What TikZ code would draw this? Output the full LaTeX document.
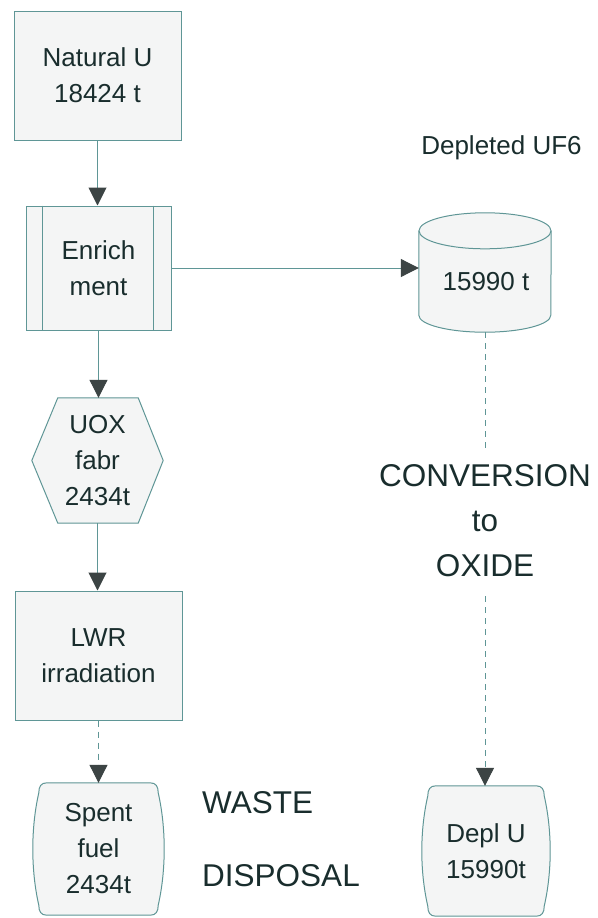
\documentclass[tikz,border=0pt]{standalone}
\usepackage{fontspec}
\setmainfont{Liberation Sans}
\usetikzlibrary{arrows.meta,backgrounds}
\definecolor{ln}{RGB}{95,150,150}
\definecolor{tx}{RGB}{25,45,45}
\definecolor{hd}{RGB}{60,68,68}
\definecolor{fl}{RGB}{244,245,245}
\newcommand\barrelpath[1]{%
 ([xshift=14pt]#1.north west) -- ([xshift=-14pt]#1.north east)
 .. controls ([xshift=-8pt]#1.north east) and ([shift={(-6,4)}]#1.north east) .. ([shift={(-6,10)}]#1.north east)
 .. controls ([shift={(2,45)}]#1.north east) and ([shift={(2,-45)}]#1.south east) .. ([shift={(-6,-10)}]#1.south east)
 .. controls ([shift={(-6,-4)}]#1.south east) and ([xshift=-8pt]#1.south east) .. ([xshift=-14pt]#1.south east)
 -- ([xshift=14pt]#1.south west)
 .. controls ([xshift=8pt]#1.south west) and ([shift={(6,-4)}]#1.south west) .. ([shift={(6,-10)}]#1.south west)
 .. controls ([shift={(-2,-45)}]#1.south west) and ([shift={(-2,45)}]#1.north west) .. ([shift={(6,10)}]#1.north west)
 .. controls ([shift={(6,4)}]#1.north west) and ([xshift=8pt]#1.north west) .. cycle}
\begin{document}
\begin{tikzpicture}[x=1pt,y=-1pt,
  box/.style={draw=ln, fill=fl, line width=1pt, rectangle, inner sep=0pt, align=center, text=tx, font=\fontsize{26}{36}\selectfont},
  ghost/.style={rectangle, inner sep=0pt, align=center, text=tx, font=\fontsize{26}{36}\selectfont},
  shapeline/.style={draw=ln, fill=fl, line width=1pt},
  flow/.style={draw=ln, line width=1pt, -{Triangle[width=18pt,length=18pt,fill=hd,color=hd]}},
  dflow/.style={flow, dash pattern=on 6pt off 5pt},
  big/.style={text=tx, font=\fontsize{31.5}{45}\selectfont, align=center, inner sep=0pt}]
\useasboundingbox (0,0) rectangle (597,918);

% nodes
\node[box, minimum width=167pt, minimum height=129pt] (natu) at (97.5,75.5) {Natural U\\18424 t};
\node[box, minimum width=145pt, minimum height=124pt] (enr) at (98.5,268) {Enrich\\ment};
\node[ghost, minimum width=131pt, minimum height=125pt] (uox) at (97.5,460.5) {UOX\\fabr\\2434t};
\node[box, minimum width=167pt, minimum height=129pt] (lwr) at (98.5,655.5) {LWR\\irradiation};
\node[ghost, minimum width=131pt, minimum height=132pt] (spent) at (98.5,849) {Spent\\fuel\\2434t};
\node[ghost, minimum width=132pt, minimum height=119pt] (cyl) at (485,272.5) {};
\node[ghost] at (486,282) {15990 t};
\node[ghost, minimum width=128pt, minimum height=130pt] (depl) at (486,851) {Depl U\\15990t};
\node[ghost] (dlab) at (501.5,148) {Depleted UF6};
\node[big, anchor=west] (waste) at (202,803) {WASTE};
\node[big, anchor=west] (disp) at (202,876) {DISPOSAL};

% shapes behind the texts
\begin{scope}[on background layer]
  \fill[white] (0,0) rectangle (597,918);
  \draw[shapeline] ([xshift=26pt]uox.north west) -- ([xshift=-25pt]uox.north east) -- (uox.east)
     -- ([xshift=-25pt]uox.south east) -- ([xshift=26pt]uox.south west) -- (uox.west) -- cycle;
  \draw[shapeline] \barrelpath{spent};
  \draw[shapeline] \barrelpath{depl};
  \fill[fl] ([yshift=-18pt]cyl.north west) -- ([yshift=17pt]cyl.south west)
     arc[start angle=180, end angle=360, x radius=66pt, y radius=17pt] -- ([yshift=-18pt]cyl.north east) -- cycle;
  \draw[ln, line width=1pt] ([yshift=-18pt]cyl.north west) -- ([yshift=17pt]cyl.south west)
     arc[start angle=180, end angle=360, x radius=66pt, y radius=17pt] -- ([yshift=-18pt]cyl.north east);
  \draw[shapeline] ([yshift=-18pt]cyl.north) ellipse[x radius=66pt, y radius=18pt];
\end{scope}
\draw[ln, line width=1pt] ([xshift=17pt]enr.north west) -- ([xshift=17pt]enr.south west);
\draw[ln, line width=1pt] ([xshift=-18pt]enr.north east) -- ([xshift=-18pt]enr.south east);

% connectors
\draw[flow] (natu.south) -- (natu.south |- enr.north);
\draw[flow] (enr.south) -- (enr.south |- uox.north);
\draw[flow] (uox.south) -- (uox.south |- lwr.north);
\draw[dflow] (lwr.south) -- (lwr.south |- spent.north);
\draw[flow] (enr.east) -- (enr.east -| cyl.west);
\draw[dflow] (cyl.south) -- (cyl.south |- depl.north);

\node[big, fill=white, inner ysep=14pt, inner xsep=2pt] (conv) at (485,521) {CONVERSION\\to\\OXIDE};
\end{tikzpicture}
\end{document}
